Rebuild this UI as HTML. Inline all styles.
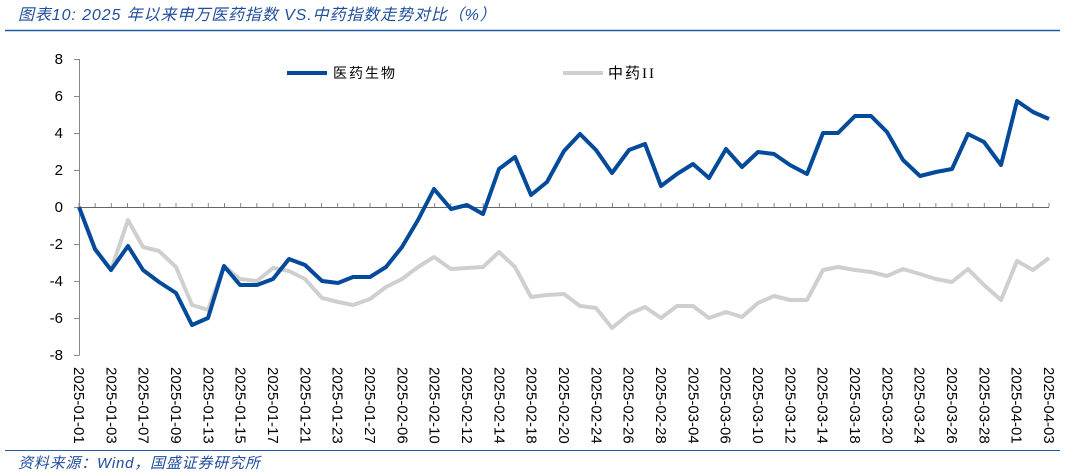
<!DOCTYPE html>
<html><head><meta charset="utf-8"><style>
body{margin:0;background:#fff;}
svg{display:block;}
</style></head><body>
<svg width="1065" height="476" xmlns="http://www.w3.org/2000/svg">
<text x="18" y="20" font-family="'Liberation Sans','Noto Sans CJK SC',sans-serif" font-size="16" font-style="italic" letter-spacing="0.9" fill="#1f4e9c">图表10:  2025 年以来申万医药指数 VS.中药指数走势对比（%）</text>
<line x1="5" y1="30.5" x2="1060" y2="30.5" stroke="#1f5aa8" stroke-width="1.5"/>
<g font-family="'Liberation Sans',sans-serif" font-size="15" fill="#000" text-anchor="end">
<text x="63" y="64">8</text><text x="63" y="101">6</text><text x="63" y="138">4</text><text x="63" y="175">2</text><text x="63" y="212">0</text><text x="63" y="249">-2</text><text x="63" y="286">-4</text><text x="63" y="323">-6</text><text x="63" y="360">-8</text>
</g>
<g stroke="#888" stroke-width="1">
<line x1="79.5" y1="59" x2="79.5" y2="355"/>
<path d="M74 59.5H79.5M74 96.5H79.5M74 133.5H79.5M74 170.5H79.5M74 207.5H79.5M74 244.5H79.5M74 281.5H79.5M74 318.5H79.5M74 355.5H79.5"/>
<line x1="79" y1="207.5" x2="1049" y2="207.5" stroke="#666"/>
</g>
<g id="tk" stroke="#888" stroke-width="1"></g>
<polyline fill="none" stroke="#cfcfcf" stroke-width="4" stroke-linejoin="round" points="79,207 95,250 111,270 128,220 143,247 159,251 176,267 192,305 208,310 224,266 240,279 257,281 273,268 289,271 305,279 322,298 338,302 353,305 370,299 386,287 402,279 418,267 434,257 451,269 467,268 483,267 499,252 515,267 531,297 547,295 564,294 580,306 596,308 612,328 629,314 645,307 661,318 677,306 693,306 709,318 726,312 742,317 758,303 774,296 790,300 807,300 823,270 838,267 855,270 871,272 887,276 903,269 920,274 936,279 952,282 968,269 984,285 1001,300 1017,261 1033,270 1049,258"/>
<polyline fill="none" stroke="#034a9a" stroke-width="4" stroke-linejoin="round" points="79,207 95,249 111,270 128,246 143,270 159,282 176,293 192,325 208,318 224,266 240,285 257,285 273,279 289,259 305,265 322,281 338,283 353,277 370,277 386,267 402,247 418,220 434,189 451,209 467,205 483,214 499,169 515,157 531,195 547,182 564,151 580,134 596,150 612,173 629,150 645,144 661,186 677,174 693,164 709,178 726,149 742,167 758,152 774,154 790,165 807,174 823,133 838,133 855,116 871,116 887,132 903,160 920,176 936,172 952,169 968,134 984,142 1001,165 1017,101 1033,112 1049,119"/>
<line x1="287" y1="73" x2="327" y2="73" stroke="#034a9a" stroke-width="4"/>
<text x="333" y="78" font-family="'Liberation Sans','Noto Sans CJK SC',sans-serif" font-size="14" letter-spacing="2">医药生物</text>
<line x1="563" y1="73" x2="603" y2="73" stroke="#cfcfcf" stroke-width="4"/>
<text x="608" y="78" font-family="'Liberation Serif','Noto Sans CJK SC',serif" font-size="15" letter-spacing="2">中药II</text>
<g id="lbl" font-family="'Liberation Sans',sans-serif" font-size="15" fill="#000"></g>
<line x1="5" y1="450.5" x2="1060" y2="450.5" stroke="#1f5aa8" stroke-width="1"/>
<text x="18" y="468" font-family="'Liberation Sans','Noto Sans CJK SC',sans-serif" font-size="15" font-style="italic" letter-spacing="0.8" fill="#1f4e9c">资料来源：Wind，国盛证券研究所</text>
</svg>
<script>
var d=["01-01","01-03","01-07","01-09","01-13","01-15","01-17","01-21","01-23","01-27","02-06","02-10","02-12","02-14","02-18","02-20","02-24","02-26","02-28","03-04","03-06","03-10","03-12","03-14","03-18","03-20","03-24","03-26","03-28","04-01","04-03"];
var ns="http://www.w3.org/2000/svg",tk=document.getElementById("tk"),lb=document.getElementById("lbl");
for(var i=0;i<=60;i++){var x=79+i*970/60;var l=document.createElementNS(ns,"line");l.setAttribute("x1",x);l.setAttribute("x2",x);l.setAttribute("y1",203);l.setAttribute("y2",207);tk.appendChild(l);}
for(var j=0;j<31;j++){var x=79+j*2*970/60;var t=document.createElementNS(ns,"text");t.setAttribute("transform","translate("+(x-5)+",367) rotate(90)");t.textContent="2025-"+d[j];lb.appendChild(t);}
</script>
</body></html>
